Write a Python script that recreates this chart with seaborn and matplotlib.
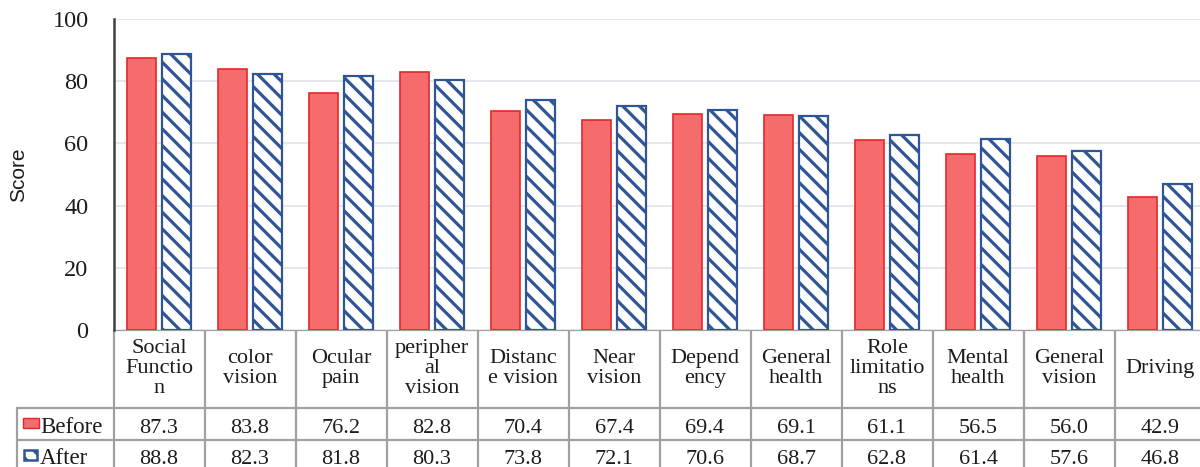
import matplotlib
matplotlib.use("Agg")
import matplotlib.pyplot as plt
from matplotlib.patches import Rectangle
from matplotlib.transforms import blended_transform_factory
import seaborn as sns
import pandas as pd

# Vision-related quality of life scores, before and after treatment
categories = ["Social Function", "color vision", "Ocular pain", "peripheral vision",
              "Distance vision", "Near vision", "Dependency", "General health",
              "Role limitations", "Mental health", "General vision", "Driving"]
tick_labels = ["Social\nFunctio\nn", "color\nvision", "Ocular\npain", "peripher\nal\nvision",
               "Distanc\ne vision", "Near\nvision", "Depend\nency", "General\nhealth",
               "Role\nlimitatio\nns", "Mental\nhealth", "General\nvision", "Driving"]
periods = ["Before", "After"]
before = [87.3, 83.8, 76.2, 82.8, 70.4, 67.4, 69.4, 69.1, 61.1, 56.5, 56.0, 42.9]
after = [88.8, 82.3, 81.8, 80.3, 73.8, 72.1, 70.6, 68.7, 62.8, 61.4, 57.6, 46.8]
y_ticks = [0, 20, 40, 60, 80, 100]

df = pd.DataFrame({
    "category": categories * 2,
    "period": [periods[0]] * len(categories) + [periods[1]] * len(categories),
    "score": before + after,
})

sns.set_theme(style="white")
plt.rcParams["font.family"] = ["Liberation Serif", "DejaVu Serif"]
plt.rcParams["hatch.linewidth"] = 2.3

RED_FACE = "#f66b6b"
RED_EDGE = "#e3282b"
NAVY = "#2f5597"
GRID = "#a0a0a0"
TXT = "#1c1c1c"
FS = 16

W, H = 1200, 467
fig = plt.figure(figsize=(W / 100, H / 100), dpi=100)

# overlay in pixel coordinates for the data table below the plot
tab = fig.add_axes([0, 0, 1, 1], zorder=0)
tab.set_xlim(0, W)
tab.set_ylim(H, 0)
tab.axis("off")

# plot area: 100 at y=19 px, 0 at y=330 px
x0, x1, y_top, y_bot = 113.5, 1205.5, 19, 330
ax = fig.add_axes([x0 / W, (H - y_bot) / H, (x1 - x0) / W, (y_bot - y_top) / H], zorder=1)

sns.barplot(data=df, x="category", y="score", hue="period", order=categories,
            hue_order=periods, width=0.76, gap=0.16, ax=ax, legend=False,
            palette=[RED_FACE, "white"], saturation=1)

for bar in ax.containers[0]:
    bar.set_facecolor(RED_FACE)
    bar.set_edgecolor(RED_EDGE)
    bar.set_linewidth(1.2)
for bar in ax.containers[1]:
    bar.set_facecolor("white")
    bar.set_edgecolor(NAVY)
    bar.set_hatch("\\\\")
    bar.set_linewidth(1.6)

ax.set_xlim(-0.5, len(categories) - 0.5)
ax.set_ylim(0, 100)
ax.set_yticks(y_ticks)
ax.set_yticklabels([str(t) for t in y_ticks], fontsize=17.5, color=TXT)
ax.tick_params(axis="y", length=0, pad=18)
ax.set_xticks([])
ax.set_xlabel("")
ax.set_ylabel("Score", fontsize=15, family=["Liberation Sans", "DejaVu Sans"], color=TXT, labelpad=0)
ax.yaxis.set_label_coords(-(x0 - 28) / (x1 - x0), 0.5)
ax.grid(axis="y", color="#dfe3ea", linewidth=1.2)
ax.set_axisbelow(True)
for side in ["top", "right", "bottom"]:
    ax.spines[side].set_visible(False)
ax.spines["left"].set_color("#404040")
ax.spines["left"].set_linewidth(1.8)

# data table: x follows the category scale, y in pixels
tr = blended_transform_factory(ax.transData, tab.transData)
row_head, row_before, row_after, row_end = 330, 407.5, 439.5, 475
lw_tab = 1.6
n = len(categories)

tab.plot([x0, W], [row_head, row_head], color=GRID, lw=lw_tab)
tab.plot([17, W], [row_before, row_before], color=GRID, lw=lw_tab)
tab.plot([17, W], [row_after, row_after], color=GRID, lw=lw_tab)
tab.plot([17, 17], [row_before, row_end], color=GRID, lw=lw_tab)
for i in range(n + 1):
    tab.plot([i - 0.5, i - 0.5], [row_head, row_end], color=GRID, lw=lw_tab, transform=tr)

for i, lab in enumerate(tick_labels):
    tab.text(i, 368.5, lab, transform=tr, ha="center", va="center", fontsize=FS,
             color=TXT, linespacing=1.1, multialignment="center")
    tab.text(i, 433, f"{before[i]:.1f}", transform=tr, ha="center", va="baseline",
             fontsize=FS, color=TXT)
    tab.text(i, 463.5, f"{after[i]:.1f}", transform=tr, ha="center", va="baseline",
             fontsize=FS, color=TXT)

# legend keys inside the table
tab.add_patch(Rectangle((23, 418), 16, 10, facecolor=RED_FACE, edgecolor=RED_EDGE, lw=1))
tab.add_patch(Rectangle((24, 450), 13, 10, facecolor="white", edgecolor=NAVY, lw=1.8, hatch="\\\\"))
tab.text(40, 433, periods[0], ha="left", va="baseline", fontsize=16.5, color=TXT)
tab.text(40, 463.5, periods[1], ha="left", va="baseline", fontsize=16.5, color=TXT)

fig.savefig("out.png", dpi=100)
